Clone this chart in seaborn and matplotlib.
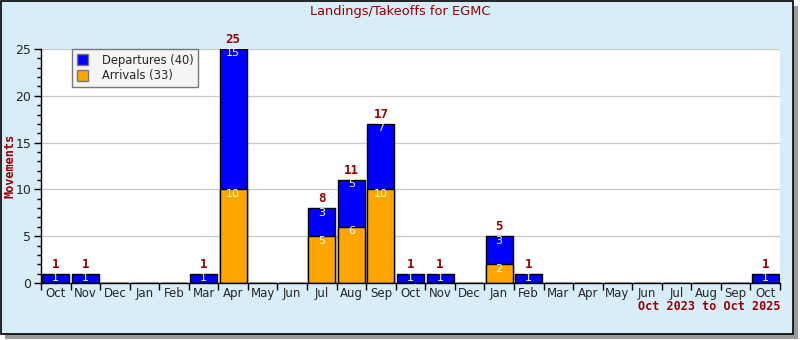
import matplotlib
matplotlib.use("Agg")
import matplotlib.pyplot as plt
from matplotlib.patches import Rectangle
from matplotlib.ticker import MultipleLocator, FixedLocator
import seaborn as sns
import pandas as pd
import numpy as np

months = ["Oct", "Nov", "Dec", "Jan", "Feb", "Mar", "Apr", "May", "Jun", "Jul", "Aug", "Sep",
          "Oct", "Nov", "Dec", "Jan", "Feb", "Mar", "Apr", "May", "Jun", "Jul", "Aug", "Sep", "Oct"]
periods = ["2023-10", "2023-11", "2023-12", "2024-01", "2024-02", "2024-03", "2024-04", "2024-05",
           "2024-06", "2024-07", "2024-08", "2024-09", "2024-10", "2024-11", "2024-12", "2025-01",
           "2025-02", "2025-03", "2025-04", "2025-05", "2025-06", "2025-07", "2025-08", "2025-09", "2025-10"]
departures = [1, 1, 0, 0, 0, 1, 15, 0, 0, 3, 5, 7, 1, 1, 0, 3, 1, 0, 0, 0, 0, 0, 0, 0, 1]
arrivals = [0, 0, 0, 0, 0, 0, 10, 0, 0, 5, 6, 10, 0, 0, 0, 2, 0, 0, 0, 0, 0, 0, 0, 0, 0]

title = "Landings/Takeoffs for EGMC"
ylabel = "Movements"
range_label = "Oct 2023 to Oct 2025"

DARKRED = "#990000"
BG = "#D7EEF8"

df = pd.DataFrame({"period": periods, "dep": departures, "arr": arrivals})
df["total"] = df["dep"] + df["arr"]

sns.set_style("white")
plt.rcParams["font.family"] = ["DejaVu Sans"]

fig = plt.figure(figsize=(8, 3.4), dpi=100)
fig.patch.set_facecolor("white")
W, H = 800, 340
# shadow and panel
fig.patches.append(Rectangle((5 / W, 1 - 339 / H), 793 / W, 333 / H, transform=fig.transFigure,
                             facecolor="#9a9a9a", edgecolor="none", zorder=-3))
fig.patches.append(Rectangle((1 / W, 1 - 334 / H), 792 / W, 333 / H, transform=fig.transFigure,
                             facecolor=BG, edgecolor="black", linewidth=1.2, zorder=-2))

ax = fig.add_axes([41 / W, 1 - 283 / H, (780 - 41) / W, (283 - 49) / H])
ax.set_facecolor("white")

sns.barplot(data=df, x="period", y="total", order=periods, color="#0000FF", saturation=1,
            width=0.91, edgecolor="black", linewidth=1, ax=ax, label="Departures (40)")
sns.barplot(data=df, x="period", y="arr", order=periods, color="#FFA500", saturation=1,
            width=0.91, edgecolor="black", linewidth=1, ax=ax, label="Arrivals (33)")

ax.set_xlim(-0.5, len(periods) - 0.5)
ax.set_ylim(0, 25)
ax.set_xlabel("")
ax.set_ylabel(ylabel, color=DARKRED, fontsize=8.6, fontweight="bold", family="DejaVu Sans Mono")
ax.yaxis.set_label_coords((17 - 41) / 739, 0.5)

ax.yaxis.set_major_locator(MultipleLocator(5))
ax.yaxis.set_minor_locator(MultipleLocator(1))
ax.grid(axis="y", which="major", color="#c8c8c8", linewidth=0.9)
ax.set_axisbelow(True)
ax.tick_params(axis="y", which="major", length=5, width=1, color="black", labelsize=9, pad=2, left=True)
ax.tick_params(axis="y", which="minor", length=3, width=1, color="black", left=True)

ax.set_xticks(range(len(periods)))
ax.set_xticklabels(months)
ax.xaxis.set_minor_locator(FixedLocator(np.arange(-0.5, len(periods), 1)))
ax.tick_params(axis="x", which="major", length=0, labelsize=8.5, pad=3)
ax.tick_params(axis="x", which="minor", length=5, width=1, color="black", bottom=True)

for s in ["top", "right"]:
    ax.spines[s].set_visible(False)
for s in ["left", "bottom"]:
    ax.spines[s].set_color("black")
    ax.spines[s].set_linewidth(1)

for i, (d, a) in enumerate(zip(departures, arrivals)):
    t = d + a
    if t > 0:
        ax.annotate(str(t), (i, t), xytext=(0, 2), textcoords="offset points", ha="center", va="bottom",
                    color=DARKRED, fontsize=9, fontweight="bold", family="DejaVu Sans Mono")
    if d > 0:
        ax.annotate(str(d), (i, t), xytext=(0, -3.2), textcoords="offset points", ha="center", va="center",
                    color="white", fontsize=8)
    if a > 0:
        ax.annotate(str(a), (i, a), xytext=(0, -3.2), textcoords="offset points", ha="center", va="center",
                    color="white", fontsize=8)

leg = ax.legend(loc="upper left", bbox_to_anchor=(31 / 739, 1.0), frameon=True, fancybox=False,
                facecolor="#f4f4f4", edgecolor="#777777", fontsize=8.3, handlelength=1.0, handleheight=1.1,
                borderpad=0.4, labelspacing=0.25, handletextpad=1.2, borderaxespad=0)
leg.get_frame().set_linewidth(1)
leg.get_frame().set_alpha(1)
for h in leg.legend_handles:
    h.set_edgecolor("#777777")

fig.text(400 / W, 1 - 12 / H, title, ha="center", va="center", color=DARKRED, fontsize=9.4)
fig.text(780 / W, 1 - 306 / H, range_label, ha="right", va="center", color=DARKRED, fontsize=8.5,
         fontweight="bold", family="DejaVu Sans Mono")

fig.savefig("out.png", dpi=100, facecolor=fig.get_facecolor())
